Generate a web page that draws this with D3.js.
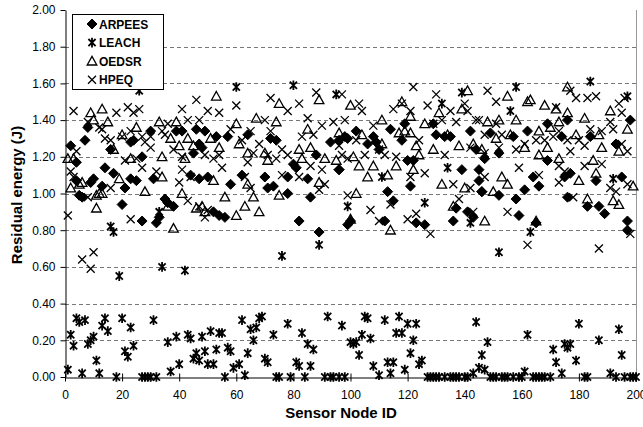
<!DOCTYPE html>
<html>
<head>
<meta charset="utf-8">
<script src="https://cdn.jsdelivr.net/npm/d3@7"></script>
<style>
  body { margin: 0; background: #fff; }
  svg { font-family: "Liberation Sans", Arial, sans-serif; }
</style>
</head>
<body>
<svg id="chart" width="643" height="427"></svg>
<script>
// values, node id / residual energy (J)
const arpeesNode = [8,7,2,4,16,14,17,10,9,4,5,6,13,21,23,20,24, 30,27,25,31,35,38,36,27,32,33,39,41,46,48,45,44,47,23, 49,53,57,64,72,50,58,62,70,71,52,54,56,47, 74,80,81,78,85,73,78,86,82,89,93,96,88,96, 98,99,102,108,114,119,118,106,109,110,96,120,121,113,115,99,112,100, 129,130,133,135,142,144,139,145,122,146,123,126,136,137,141,143, 149,157,162,169,147,152,169,146,152,158,161,164,166,159,165,145, 176,174,184,193,198,177,175,186,195,176,183,187,189,197,197];
const arpeesEnergy = [1.36,1.29,1.26,1.17,1.24,1.14,1.11,1.08,1.06,1.07,0.99,0.98,1.04,1.03,1.08,0.94,1.29, 1.34,1.20,1.07,1.08,0.97,0.93,0.95,0.85,0.84,0.87,1.34,1.34,1.35,1.25,1.22,1.10,1.08,1.28, 1.34,1.31,1.31,1.32,1.30,1.09,1.05,1.10,1.09,1.03,0.90,0.88,0.87,1.27, 1.29,1.16,1.14,1.09,1.08,1.04,1.00,0.98,0.85,0.79,1.28,1.29,1.21,1.13, 1.31,1.30,1.34,1.31,1.35,1.38,1.29,1.27,1.28,1.24,1.13,1.18,1.04,1.01,0.96,0.83,0.85,0.85, 1.38,1.32,1.31,1.31,1.34,1.24,1.13,1.13,1.18,1.01,0.84,0.83,0.85,0.92,0.90,0.87, 1.33,1.31,1.34,1.38,1.19,1.22,1.18,1.01,0.99,0.97,1.02,1.09,1.04,0.88,0.84,1.07, 1.40,1.31,1.31,1.27,1.40,1.11,1.09,1.07,1.09,0.98,0.93,0.93,0.89,0.85,0.80];

const leachNode = [1,2,3,4,5,6,7,8,9,10,11,12,13,14,15,16,17,18,19,20,21,22,23,24,26,27,28,29,30,31,32,33,34,36,37,39,40,42,43,44,45,46,47,48,49,50,51,52,53,54,55,56,57,58,59,60,61,62,63,64,65,66,67,68,69,70,71,73,74,75,76,78,79,80,81,82,83,84,85,86,87,89,91,92,93,94,95,96,97,98,99,100,101,102,103,104,105,106,107,108,110,111,112,113,114,115,116,117,118,119,120,121,122,123,124,125,126,127,128,129,130,131,132,133,134,135,136,137,138,139,140,141,142,143,144,145,146,147,148,149,150,151,152,153,154,155,156,157,158,159,160,161,162,163,164,165,166,167,168,170,171,172,174,175,176,177,179,180,182,183,184,187,191,192,193,194,195,196,197,198,199,200];
const leachEnergy = [0.04,0.23,0.17,0.32,0.30,0.02,0.31,0.18,0.20,0.22,0.09,0.02,0.28,0.32,0.25,0.82,0.79,0.00,0.55,0.32,0.14,0.11,0.27,0.17,1.56,0.00,0.00,0.00,0.00,0.31,0.00,0.90,0.60,0.19,0.03,0.22,0.07,0.58,0.23,0.21,0.10,0.13,0.09,0.22,0.14,0.07,0.25,0.07,0.15,0.24,0.24,0.00,0.16,0.14,0.05,1.58,0.07,0.31,0.01,0.13,0.26,0.20,0.27,0.32,0.33,0.10,0.08,0.23,0.00,0.00,0.66,0.29,0.00,1.59,0.08,0.06,0.24,0.00,0.18,0.06,0.15,0.72,0.00,0.33,0.00,0.00,1.54,0.00,0.28,0.00,0.93,0.19,0.18,0.19,0.12,0.23,0.33,0.32,0.21,0.06,0.01,1.09,0.31,0.08,0.02,0.08,0.24,0.33,0.24,0.04,0.29,0.13,0.20,0.29,0.07,0.09,0.95,0.00,0.00,0.00,0.00,0.00,1.49,0.00,1.14,0.00,0.00,0.00,0.00,1.55,0.00,0.00,0.84,0.02,0.30,0.05,0.12,0.04,0.19,0.00,0.00,0.00,0.68,0.00,0.00,0.00,1.45,0.00,1.58,0.00,0.00,0.03,0.23,0.79,0.00,0.00,0.00,0.00,0.00,0.00,0.15,0.08,0.02,0.18,0.16,0.18,0.09,0.29,0.00,0.00,1.61,0.20,0.02,1.08,0.00,0.26,0.12,0.00,1.53,0.00,0.00,0.00];

const oedsrNode = [9,10,13,15,1,3,17,19,5,6,2,11,12,13,11,23,20, 25,33,37,39,43,40,34,42,28,41,34,46,36,38,45, 53,67,60,51,54,61,64,70,71,52,64,56,66,60,63,68,48,49, 75,89,74,85,96,82,86,91,83,95,89,75, 100,118,111,104,111,117,119,101,103,108,106,113,116,102,100,114,121, 141,121,126,131,134,139,123,124,129,138,143,122,132,140,136, 155,162,163,168,148,152,158,151,156,166,161,166,146,153,155,150,147,165,169, 176,172,176,182,191,197,170,173,187,179,188,194,173,185,186,180,199,183,192,194];
const oedsrEnergy = [1.44,1.40,1.46,1.39,1.19,1.19,1.24,1.08,1.05,1.06,1.03,0.99,1.00,1.00,0.92,1.19,1.32, 1.36,1.39,1.30,1.39,1.30,1.26,1.20,1.19,1.01,1.00,1.09,0.92,0.93,0.81,1.26, 1.53,1.41,1.38,1.30,1.25,1.27,1.22,1.22,1.18,1.07,1.05,0.98,0.98,0.88,0.93,0.90,0.93,0.90, 1.49,1.51,1.39,1.35,1.33,1.24,1.25,1.19,1.19,1.18,1.06,0.99, 1.48,1.50,1.40,1.32,1.27,1.33,1.34,1.20,1.15,1.15,1.09,1.10,1.15,1.00,0.86,0.80,1.33, 1.56,1.42,1.38,1.44,1.32,1.46,1.26,1.21,1.24,1.26,1.27,1.13,1.05,1.03,0.93, 1.53,1.50,1.51,1.48,1.39,1.40,1.40,1.30,1.32,1.34,1.25,1.21,1.24,1.09,1.05,1.01,0.85,0.85,1.25, 1.58,1.46,1.44,1.41,1.45,1.35,1.36,1.39,1.32,1.32,1.25,1.23,1.19,1.18,1.11,1.07,1.04,0.97,0.96,0.94];

const hpeqNode = [3,8,13,12,16,18,22,23,4,2,3,8,16,1,23,10,6,9,14,20,21, 24,26,41,46,43,47,34,35,30,27,30,25,27,32,40,41,44,43,47,38,41,36,28, 50,54,60,72,70,72,58,62,65,68,49,52,55,54,64,66,71,63,65,49,50, 82,78,88,85,90,94,83,87,96,76,74,78,86,90,82,76,91,89,97, 97,103,104,115,118,121,98,108,102,105,110,112,116,99,99,107,110,120,114,121, 122,130,127,135,140,141,137,144,129,132,124,133,126,136,142,138,143,123,128,142, 148,151,145,151,147,153,152,158,161,165,168,147,159,166,155,162,147, 177,179,183,186,194,196,172,195,191,173,171,184,188,192,176,180,182,177,195,197,173,182,188,175,173,191,193,197,178,187,198];
const hpeqEnergy = [1.45,1.39,1.35,1.36,1.29,1.44,1.47,1.34,1.23,1.12,1.09,0.98,1.03,0.88,0.86,0.68,0.64,0.59,1.30,1.31,1.18, 1.44,1.46,1.46,1.51,1.40,1.40,1.34,1.32,1.31,1.31,1.25,1.19,1.14,1.12,1.06,1.13,1.09,0.96,0.93,1.24,1.20,1.38,1.28, 1.45,1.44,1.48,1.52,1.40,1.34,1.35,1.29,1.34,1.27,1.21,1.19,1.14,1.21,1.17,1.22,1.21,1.09,1.03,0.87,0.91, 1.49,1.45,1.55,1.41,1.37,1.39,1.31,1.32,1.26,1.24,1.19,1.21,1.15,1.13,1.09,1.10,1.05,1.02,1.21, 1.54,1.49,1.45,1.46,1.49,1.45,1.40,1.37,1.29,1.21,1.24,1.21,1.20,1.19,0.99,0.91,0.85,0.86,0.94,1.09, 1.58,1.54,1.48,1.45,1.49,1.45,1.39,1.40,1.38,1.40,1.29,1.21,1.11,1.05,1.03,0.97,0.90,0.89,0.78,1.25, 1.56,1.50,1.40,1.38,1.32,1.32,1.25,1.24,1.27,1.29,1.29,1.09,1.14,1.10,0.90,0.72,1.22, 1.56,1.52,1.52,1.53,1.49,1.52,1.47,1.44,1.39,1.34,1.31,1.35,1.34,1.35,1.29,1.29,1.26,1.23,1.27,1.23,1.15,1.15,1.16,1.12,1.06,1.03,1.01,1.05,0.98,0.70,0.78];

const xTicks = [0, 20, 40, 60, 80, 100, 120, 140, 160, 180, 200];
const yTicks = [0, 0.2, 0.4, 0.6, 0.8, 1.0, 1.2, 1.4, 1.6, 1.8, 2.0];

const series = [
  { name: 'ARPEES', node: arpeesNode, energy: arpeesEnergy, shape: 'diamond' },
  { name: 'LEACH', node: leachNode, energy: leachEnergy, shape: 'star' },
  { name: 'OEDSR', node: oedsrNode, energy: oedsrEnergy, shape: 'triangle' },
  { name: 'HPEQ', node: hpeqNode, energy: hpeqEnergy, shape: 'cross' }
];

const shapes = {
  diamond: 'M0,-5L5,0L0,5L-5,0Z',
  star: 'M-3.6,-3.6L3.6,3.6M-3.6,3.6L3.6,-3.6M0,-4.8V4.8',
  triangle: 'M0,-4.8L4.8,3.8L-4.8,3.8Z',
  cross: 'M-4,-4L4,4M-4,4L4,-4'
};
const widths = { diamond: 1, star: 1.8, triangle: 1.3, cross: 1.3 };

const svg = d3.select('#chart');
const x = d3.scaleLinear().domain([0, 200]).range([65, 636]);
const y = d3.scaleLinear().domain([0, 2]).range([377, 10]);
const snap = v => Math.round(v) + 0.5;

// dashed gridlines
svg.append('g')
  .selectAll('line')
  .data(yTicks.filter(d => d > 0 && d < 2))
  .enter().append('line')
  .attr('x1', x(0)).attr('x2', x(200))
  .attr('y1', d => snap(y(d))).attr('y2', d => snap(y(d)))
  .attr('stroke', '#777')
  .attr('stroke-dasharray', '4,3');

// right border of plot area
svg.append('line')
  .attr('x1', snap(x(200))).attr('x2', snap(x(200)))
  .attr('y1', y(2)).attr('y2', y(0))
  .attr('stroke', '#999');

const yAxis = svg.append('g')
  .attr('transform', `translate(${snap(x(0))},0)`)
  .call(d3.axisLeft(y).tickValues(yTicks).tickFormat(d3.format('.2f')).tickSize(5).tickSizeOuter(0));

const xAxis = svg.append('g')
  .attr('transform', `translate(0,${snap(y(0))})`)
  .call(d3.axisBottom(x).tickValues(xTicks).tickSize(4).tickSizeOuter(0));
xAxis.selectAll('.tick line').attr('y1', -4);

[yAxis, xAxis].forEach(a => {
  a.selectAll('text').style('font-size', '12px').attr('fill', '#000');
  a.selectAll('line, path').attr('stroke', '#000');
});
yAxis.selectAll('text').attr('x', -10);
xAxis.selectAll('text').attr('dy', '1.2em');

// points
series.forEach(s => {
  const pts = s.node.map((n, i) => ({ n: n, e: s.energy[i] }));
  svg.append('g')
    .selectAll('path')
    .data(pts)
    .enter().append('path')
    .attr('transform', d => `translate(${x(d.n)},${y(d.e)})`)
    .attr('d', shapes[s.shape])
    .attr('fill', s.shape === 'diamond' ? '#000' : 'none')
    .attr('stroke', '#000')
    .attr('stroke-width', widths[s.shape]);
});

// legend
const legend = svg.append('g');
legend.append('rect')
  .attr('x', 72.5).attr('y', 14.5).attr('width', 91).attr('height', 75)
  .attr('fill', '#fff').attr('stroke', '#000');
series.forEach((s, i) => {
  const ly = 24 + i * 18.6;
  legend.append('path')
    .attr('transform', `translate(92,${ly})`)
    .attr('d', shapes[s.shape])
    .attr('fill', s.shape === 'diamond' ? '#000' : 'none')
    .attr('stroke', '#000')
    .attr('stroke-width', widths[s.shape]);
  legend.append('text')
    .attr('x', 99).attr('y', ly + 4.5)
    .style('font-size', '12px').style('font-weight', 'bold')
    .text(s.name);
});

// axis titles
svg.append('text')
  .attr('x', 341).attr('y', 418)
  .attr('text-anchor', 'middle')
  .style('font-size', '15px').style('font-weight', 'bold')
  .text('Sensor Node ID');

svg.append('text')
  .attr('transform', 'translate(22,195) rotate(-90)')
  .attr('text-anchor', 'middle')
  .style('font-size', '15px').style('font-weight', 'bold')
  .text('Residual energy (J)');
</script>
</body>
</html>
